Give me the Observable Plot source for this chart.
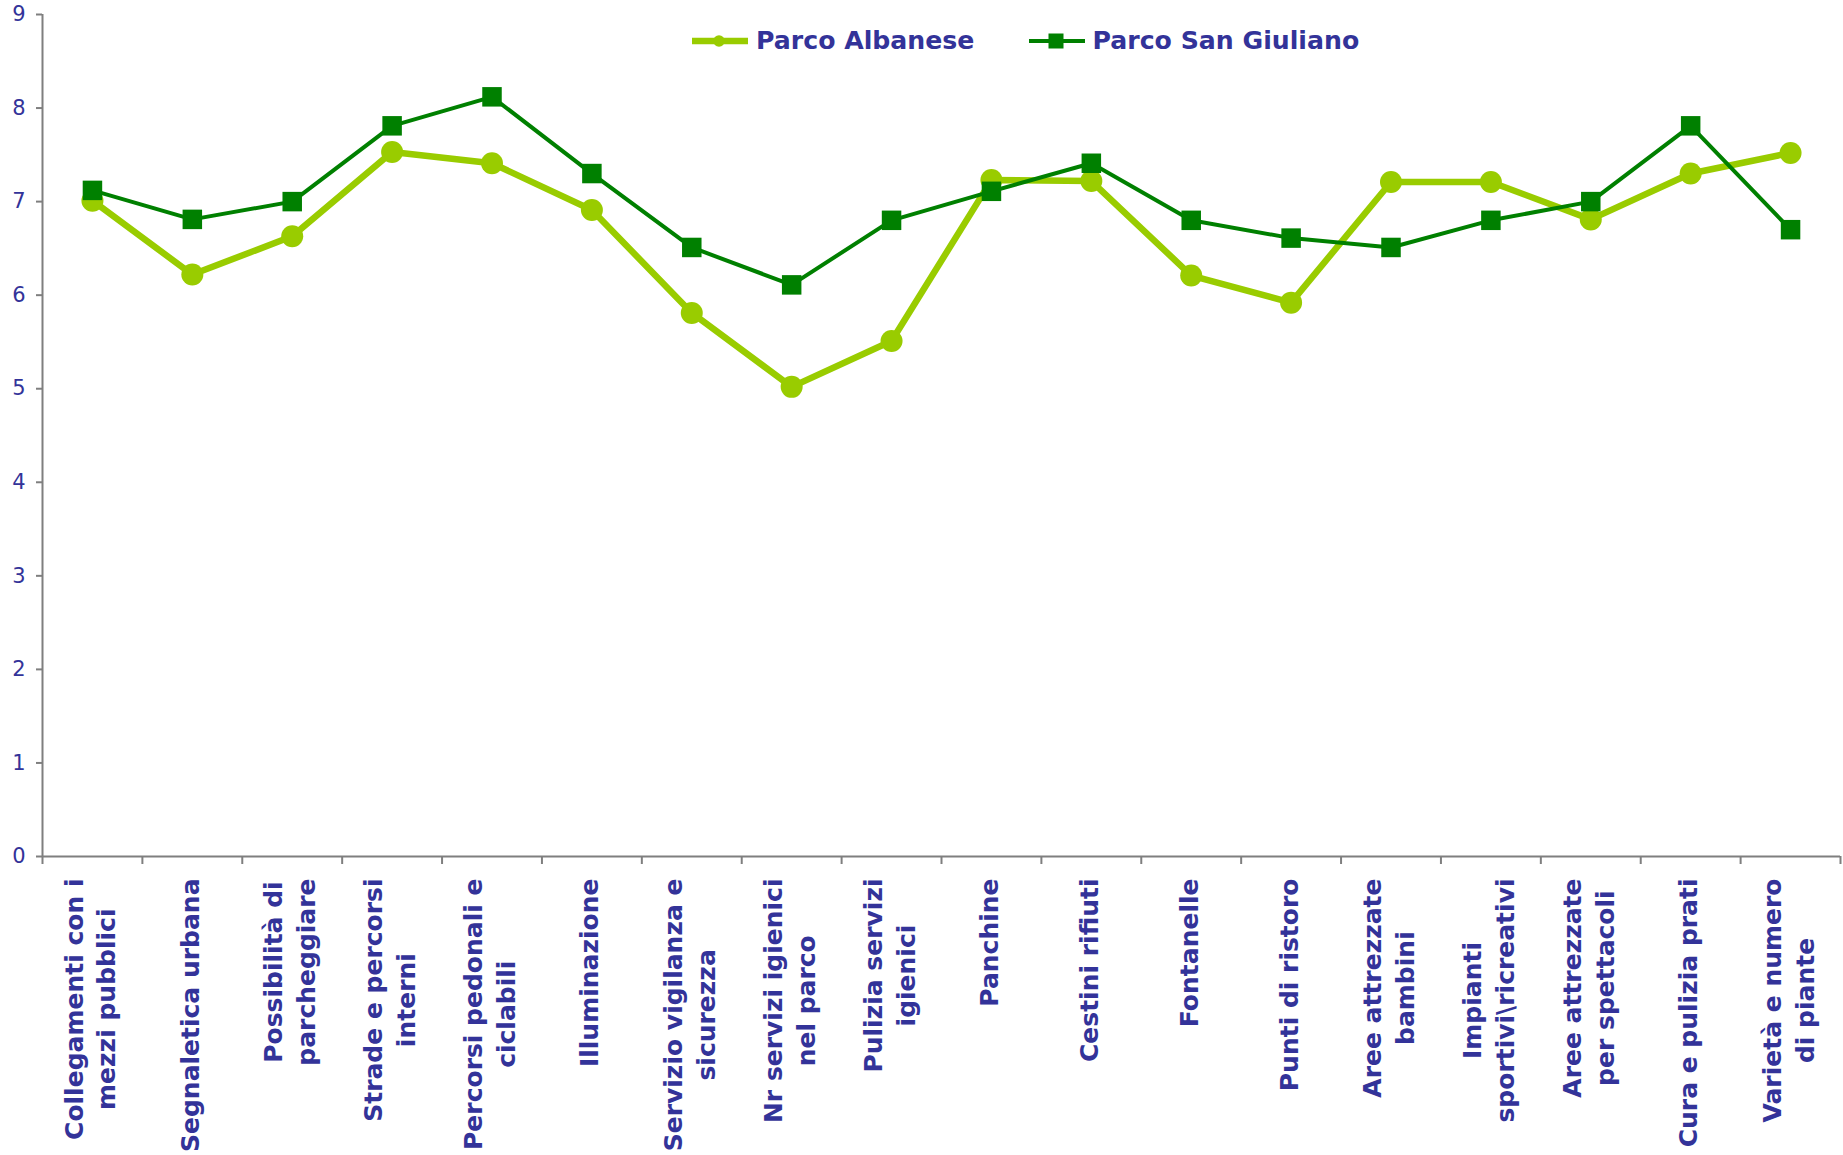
<!DOCTYPE html>
<html>
<head>
<meta charset="utf-8">
<script src="https://cdn.jsdelivr.net/npm/d3@7"></script>
<script src="https://cdn.jsdelivr.net/npm/@observablehq/plot@0.6"></script>
<style>
  html, body { margin: 0; padding: 0; background: #fff; }
  #wrap { position: relative; width: 1843px; height: 1155px; overflow: hidden; font-family: "DejaVu Sans", Verdana, sans-serif; }
  #legend { position: absolute; left: 692px; top: 28px; height: 25px; display: flex; align-items: center; }
  .item { display: flex; align-items: center; height: 25px; }
  .item span { font-weight: bold; font-size: 25.2px; line-height: 25px; color: #333399; white-space: nowrap; }
</style>
</head>
<body>
<div id="wrap"><div id="chart"></div><div id="legend"></div></div>
<script>
// ---- data ----
const categories = [
  "Collegamenti con i\nmezzi pubblici",
  "Segnaletica urbana",
  "Possibilità di\nparcheggiare",
  "Strade e percorsi\ninterni",
  "Percorsi pedonali e\nciclabili",
  "Illuminazione",
  "Servizio vigilanza e\nsicurezza",
  "Nr servizi igienici\nnel parco",
  "Pulizia servizi\nigienici",
  "Panchine",
  "Cestini rifiuti",
  "Fontanelle",
  "Punti di ristoro",
  "Aree attrezzate\nbambini",
  "Impianti\nsportivi\\ricreativi",
  "Aree attrezzate\nper spettacoli",
  "Cura e pulizia prati",
  "Varietà e numero\ndi piante"
];
const albanese    = [7.01, 6.22, 6.63, 7.53, 7.41, 6.91, 5.81, 5.02, 5.51, 7.23, 7.22, 6.21, 5.92, 7.21, 7.21, 6.81, 7.30, 7.52];
const sanGiuliano = [7.12, 6.81, 7.00, 7.81, 8.12, 7.30, 6.51, 6.11, 6.80, 7.11, 7.41, 6.80, 6.61, 6.51, 6.80, 7.00, 7.81, 6.70];
const yTicks = [0, 1, 2, 3, 4, 5, 6, 7, 8, 9];
const seriesNames = ["Parco Albanese", "Parco San Giuliano"];

// ---- styles ----
const textColor = "#333399";
const axisColor = "#7f7f7f";
const colorA = "#99cc00";
const colorB = "#008000";
const labelFont = 25;
const fontFamily = "'DejaVu Sans', Verdana, sans-serif";

const n = categories.length;
const idx = d3.range(n);
const dataA = idx.map(i => ({i, v: albanese[i]}));
const dataB = idx.map(i => ({i, v: sanGiuliano[i]}));
const boundaries = d3.range(n + 1).map(k => k - 0.5);

// measure label widths to top-align each label block
const ctx = document.createElement("canvas").getContext("2d");
ctx.font = `bold ${labelFont}px ${fontFamily}`;
const labelMarks = idx.map(i => {
  const w = d3.max(categories[i].split("\n"), s => ctx.measureText(s).width);
  return Plot.text([i], {
    x: d => d,
    text: d => categories[d],
    frameAnchor: "bottom",
    rotate: -90,
    textAnchor: "middle",
    lineAnchor: "middle",
    lineHeight: 1.32,
    dx: -4,
    dy: 22 + w / 2,
    fontSize: labelFont,
    fontWeight: "bold",
    fill: textColor
  });
});

const chart = Plot.plot({
  width: 1843,
  height: 1155,
  marginLeft: 42,
  marginRight: 3,
  marginTop: 14,
  marginBottom: 299,
  style: { fontFamily, background: "white", overflow: "visible" },
  x: { type: "linear", domain: [-0.5, n - 0.5], axis: null },
  y: { domain: [0, 9], axis: null },
  marks: [
    Plot.axisY({ ticks: yTicks, label: null, tickSize: 6, tickPadding: 11, fontSize: 21, stroke: axisColor, fill: textColor, tickFormat: d3.format("d"), strokeWidth: 2 }),
    Plot.axisX({ ticks: boundaries, label: null, tickSize: 8, tickFormat: () => "", stroke: axisColor, strokeWidth: 2 }),
    Plot.ruleX([-0.5], { stroke: axisColor, strokeWidth: 2 }),
    Plot.ruleY([0], { stroke: axisColor, strokeWidth: 2 }),
    Plot.line(dataA, { x: "i", y: "v", stroke: colorA, strokeWidth: 6.5, strokeLinejoin: "round" }),
    Plot.dot(dataA, { x: "i", y: "v", r: 11, fill: colorA, stroke: null, symbol: "circle" }),
    Plot.line(dataB, { x: "i", y: "v", stroke: colorB, strokeWidth: 4, strokeLinejoin: "round" }),
    Plot.dot(dataB, { x: "i", y: "v", r: 11, fill: colorB, stroke: null, symbol: "square" }),
    ...labelMarks
  ]
});
document.getElementById("chart").appendChild(chart);

// ---- legend ----
const legend = document.getElementById("legend");
const swatches = [
  `<svg width="56" height="16" style="display:block"><line x1="0" x2="56" y1="8" y2="8" stroke="${colorA}" stroke-width="6.5"/><circle cx="27" cy="8" r="5.8" fill="${colorA}"/></svg>`,
  `<svg width="56" height="16" style="display:block"><line x1="0" x2="56" y1="8" y2="8" stroke="${colorB}" stroke-width="4"/><rect x="19.5" y="0.5" width="15" height="15" fill="${colorB}"/></svg>`
];
seriesNames.forEach((name, k) => {
  const item = document.createElement("div");
  item.className = "item";
  if (k > 0) item.style.marginLeft = "55px";
  item.innerHTML = swatches[k] + `<span style="margin-left:${k === 0 ? 8 : 7}px">${name}</span>`;
  legend.appendChild(item);
});
</script>
</body>
</html>
